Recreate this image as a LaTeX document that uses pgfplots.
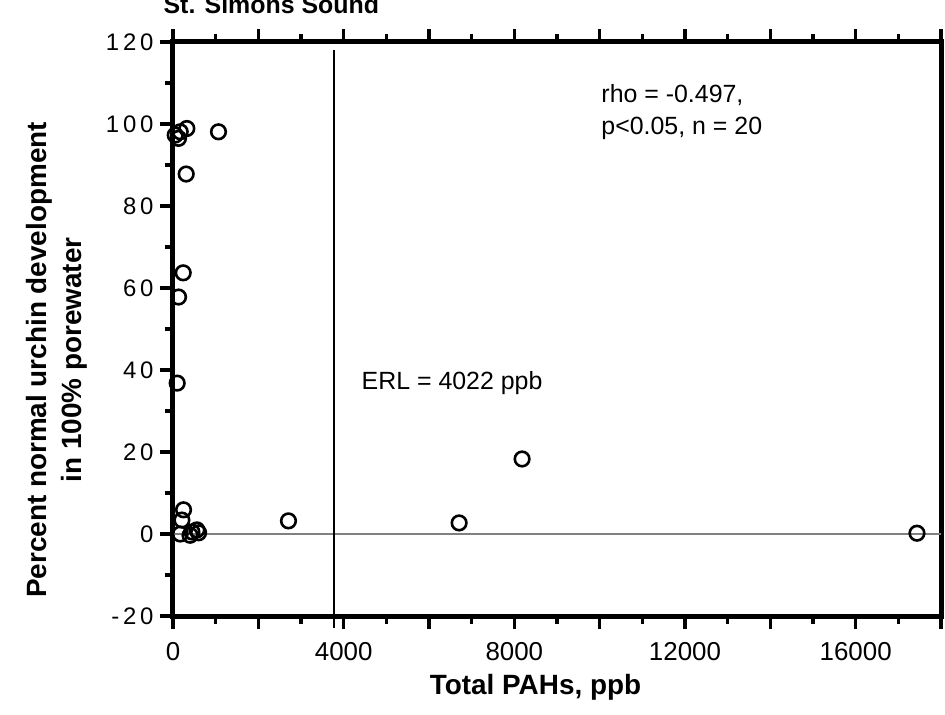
\documentclass[border=0pt]{standalone}
\usepackage{fontspec}
\setmainfont{Liberation Sans}
\usepackage{pgfplots}
\pgfplotsset{compat=1.18}
\begin{document}
\begin{tikzpicture}
\useasboundingbox (-173bp,-99bp) rectangle (772bp,616bp);
\begin{axis}[
  at={(0,0)}, anchor=south west, scale only axis,
  width=768bp, height=574bp,
  xmin=0, xmax=18000, ymin=-20, ymax=120,
  clip=false,
  scaled x ticks=false, scaled y ticks=false,
  axis line style={line width=5bp},
  tick align=outside,
  xtick pos=both, ytick pos=left,
  xticklabel pos=bottom,
  xtick={0,2000,...,18000},
  xticklabels={0,,4000,,8000,,12000,,16000,},
  minor x tick num=1,
  ytick={-20,0,...,120},
  yticklabels={-20,0,20,40,60,80,100,120},
  minor y tick num=1,
  major tick length=13bp, minor tick length=8bp,
  every tick/.style={line width=3.5bp, black},
  /pgf/number format/assume math mode=true,
  xticklabel style={font=\fontsize{26}{26}\selectfont, yshift=-10bp},
  yticklabel style={font=\fontsize{24}{24}\selectfont\addfontfeatures{LetterSpace=16}, anchor=east, xshift=-3bp},
]
\addplot[gray, line width=2.5bp] coordinates {(0,0) (18000,0)};
\addplot[black, line width=2bp] coordinates {(3770,-23) (3770,118)};
\addplot[only marks, mark=o, mark size=7.3bp, black, mark options={line width=2.6bp}] coordinates {
(52,97.3) (129,96.5) (169,98.1) (325,98.9) (1066,98.1)
(309,87.8) (239,63.7) (130,57.8) (98,36.8)
(247,5.9) (208,3.4) (169,0.0) (443,0.5) (560,1.0) (600,0.3) (400,-0.3)
(2706,3.2) (6706,2.7) (8182,18.3) (17437,0.2)
};
\node[anchor=west, align=left, font=\fontsize{25}{32}\selectfont] at (axis cs:9960,103) {rho = -0.497,\\p<0.05, n = 20};
\node[anchor=west, font=\fontsize{25}{30}\selectfont] at (axis cs:4340,36.8) {ERL = 4022 ppb};
\node[rotate=90, align=center, font=\fontsize{28}{35}\selectfont\bfseries] at (axis description cs:-0.151,0.446) {Percent normal urchin development\\in 100\% porewater};
\node[font=\fontsize{28}{30}\selectfont\bfseries] at (axis description cs:0.472,-0.125) {Total PAHs, ppb};
\node[anchor=base, font=\fontsize{25}{30}\selectfont\bfseries] at (axis description cs:0.128,1.049) {St. Simons Sound};
\end{axis}
\end{tikzpicture}
\end{document}
